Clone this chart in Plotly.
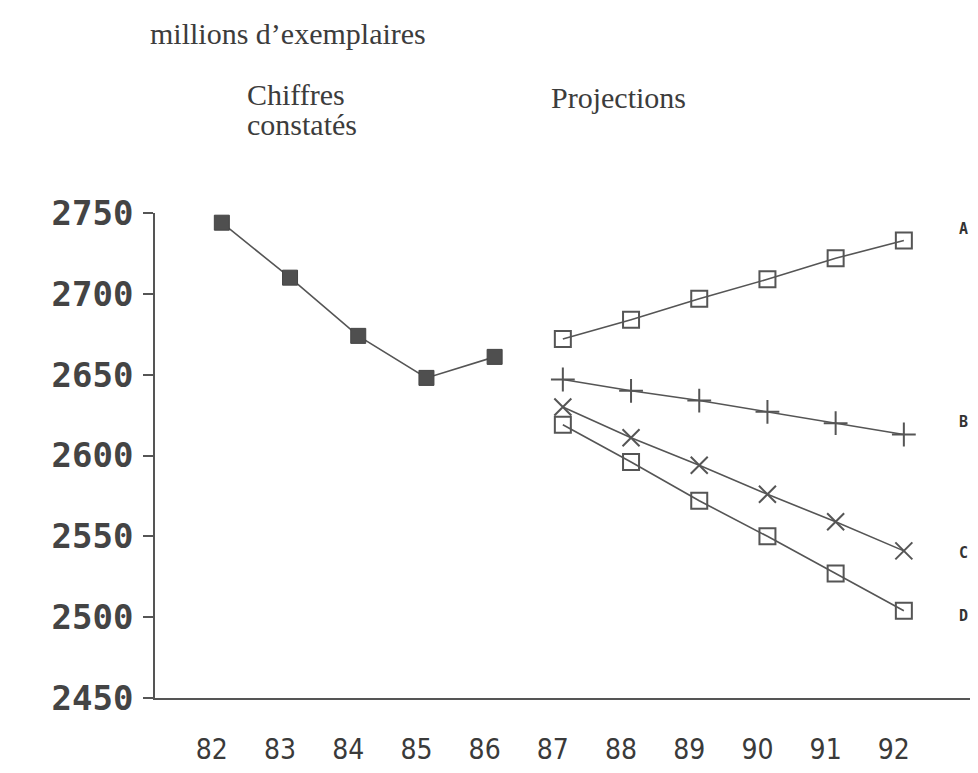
import plotly.graph_objects as go

# ---- data ----
years_hist = [82, 83, 84, 85, 86]
values_hist = [2744, 2710, 2674, 2648, 2661]

years_proj = [87, 88, 89, 90, 91, 92]
proj_A = [2672, 2684, 2697, 2709, 2722, 2733]
proj_B = [2647, 2640, 2634, 2627, 2620, 2613]
proj_C = [2630, 2611, 2594, 2576, 2559, 2541]
proj_D = [2619, 2596, 2572, 2550, 2527, 2504]

series_names = ["A", "B", "C", "D"]
series_label_y = [2740, 2621, 2540, 2501]

x_tick_vals = [82, 83, 84, 85, 86, 87, 88, 89, 90, 91, 92]
x_tick_text = ["82", "83", "84", "85", "86", "87", "88", "89", "90", "91", "92"]
y_tick_vals = [2450, 2500, 2550, 2600, 2650, 2700, 2750]
y_tick_text = ["2450", "2500", "2550", "2600", "2650", "2700", "2750"]

title_unit = "millions d’exemplaires"
title_hist_1 = "Chiffres"
title_hist_2 = "constatés"
title_proj = "Projections"

# ---- style ----
INK = "#444444"
LINE = "#555555"

fig = go.Figure()

fig.add_trace(go.Scatter(
    x=years_hist, y=values_hist, mode="lines+markers",
    line=dict(color=LINE, width=1.6),
    marker=dict(symbol="square", size=15, color="#4f4f4f",
                line=dict(color="#444", width=1)),
    showlegend=False, cliponaxis=False,
))

open_square = dict(symbol="square-open", size=16, color=LINE, line=dict(width=2))
proj_styles = [
    open_square,
    dict(symbol="cross-thin-open", size=17, color=LINE, line=dict(width=2)),
    dict(symbol="x-thin-open", size=17, color=LINE, line=dict(width=2)),
    open_square,
]
for vals, mk in zip([proj_A, proj_B, proj_C, proj_D], proj_styles):
    fig.add_trace(go.Scatter(
        x=years_proj, y=vals, mode="lines+markers",
        line=dict(color=LINE, width=1.6),
        marker=mk, showlegend=False, cliponaxis=False,
    ))

annotations = []
for name, yv in zip(series_names, series_label_y):
    annotations.append(dict(
        x=0.9915, xref="paper", y=yv, yref="y", text="<b>%s</b>" % name,
        showarrow=False, xanchor="center", yanchor="middle",
        font=dict(family="DejaVu Sans Mono", size=15, color="#333"),
    ))

serif = dict(family="Liberation Serif, Times New Roman, serif", size=30, color="#3c3c3c")
for txt, xp, yp in [
    (title_unit, -0.0085, 1.371),
    (title_hist_1, 0.111, 1.245),
    (title_hist_2, 0.111, 1.182),
    (title_proj, 0.484, 1.239),
]:
    annotations.append(dict(
        x=xp, y=yp, xref="paper", yref="paper", text=txt, showarrow=False,
        xanchor="left", yanchor="middle", font=serif,
    ))

# the page body has an 8px margin, so the figure is sized to fit inside the window
fig.update_layout(
    width=962, height=757,
    margin=dict(l=147, r=0, t=205, b=67),
    paper_bgcolor="white", plot_bgcolor="white",
    annotations=annotations,
    xaxis=dict(
        range=[81.02, 92.97], showgrid=False, zeroline=False, automargin=False,
        showline=True, linecolor=LINE, linewidth=1.6,
        ticks="", tickvals=x_tick_vals, ticktext=x_tick_text,
        ticklabelshift=-10, ticklabelstandoff=26,
        tickfont=dict(family="Liberation Sans Narrow, DejaVu Sans Condensed, Arial Narrow, Liberation Sans, sans-serif",
                      size=28, color="#3a3a3a"),
    ),
    yaxis=dict(
        range=[2450, 2750], showgrid=False, zeroline=False, automargin=False,
        showline=True, linecolor=LINE, linewidth=1.6,
        ticks="outside", ticklen=10, tickcolor=LINE, tickwidth=1.6,
        tickvals=y_tick_vals, ticktext=y_tick_text,
        ticklabelstandoff=3,
        tickfont=dict(family="DejaVu Sans Mono", size=34, color=INK, weight="bold"),
    ),
)

fig.write_html("out.html")
